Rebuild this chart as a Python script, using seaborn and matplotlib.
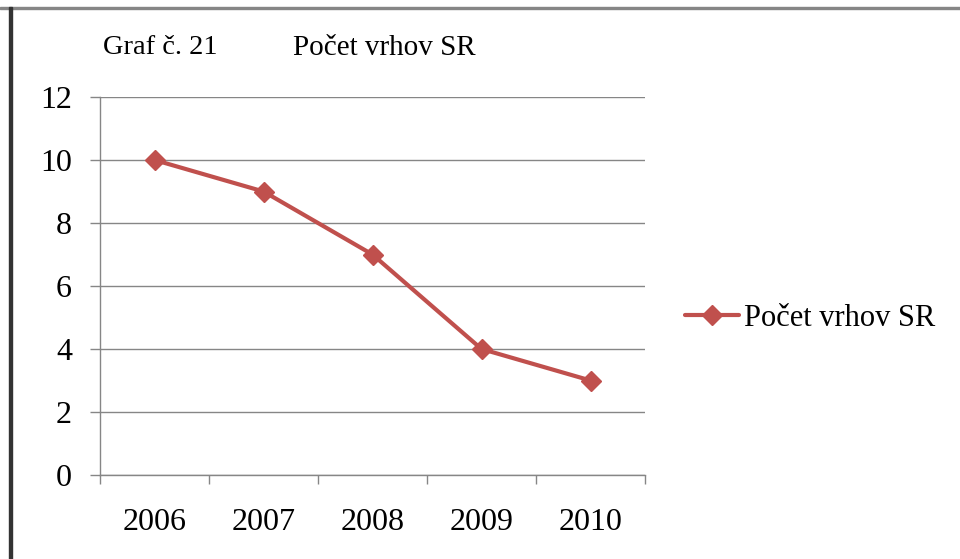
import matplotlib
matplotlib.use("Agg")
import matplotlib.pyplot as plt
import seaborn as sns
import pandas as pd
from matplotlib.lines import Line2D
from matplotlib.patches import Rectangle

years = ["2006", "2007", "2008", "2009", "2010"]
values = [10, 9, 7, 4, 3]
series_name = "Počet vrhov SR"
yticks = [0, 2, 4, 6, 8, 10, 12]

sns.set_style("white")
plt.rcParams['font.family'] = ['Liberation Serif', 'DejaVu Serif']
plt.rcParams['text.color'] = 'black'
plt.rcParams['xtick.color'] = 'black'
plt.rcParams['ytick.color'] = 'black'

df = pd.DataFrame({"year": years, "value": values, "idx": range(len(years))})

fig = plt.figure(figsize=(9.6, 5.59), dpi=100)
ax = fig.add_axes([100/960, 1-475/559, 545/960, 378/559])

color = "#C0504D"
sns.lineplot(data=df, x="idx", y="value", ax=ax, color=color, linewidth=3,
             marker="D", markersize=10.5, markeredgecolor=color,
             markeredgewidth=1, legend=False)

ax.set_xlim(-0.5, len(years) - 0.5)
ax.set_ylim(0, 12)
ax.set_yticks(yticks)
ax.set_yticklabels([str(v) for v in yticks], fontsize=23)
ax.yaxis.grid(True, color="#868686", linewidth=1)
ax.set_axisbelow(True)

ax.set_xticks([i - 0.5 for i in range(len(years) + 1)])
ax.set_xticklabels([])
ax.set_xticks(range(len(years)), minor=True)
ax.set_xticklabels(years, minor=True, fontsize=23)
ax.tick_params(axis="x", which="major", bottom=True, direction="out", length=6.5,
               color="#868686", width=1)
ax.tick_params(axis="x", which="minor", bottom=True, length=0, pad=24)
ax.tick_params(axis="y", left=True, direction="out", length=7.2, color="#868686",
               width=1, pad=13)
ax.set_xlabel("")
ax.set_ylabel("")

for s in ["top", "right"]:
    ax.spines[s].set_visible(False)
for s in ["left", "bottom"]:
    ax.spines[s].set_color("#868686")
    ax.spines[s].set_linewidth(1)

fig.text(103/960, 1-48/559, "Graf č. 21", fontsize=20.5, va="center", ha="left")
fig.text(293/960, 1-48/559, series_name, fontsize=21, va="center", ha="left")

handle = Line2D([], [], color=color, linewidth=3, marker="D", markersize=10.5,
                markeredgewidth=1)
fig.legend([handle], [series_name], loc="center left",
           bbox_to_anchor=(685/960, 1-318/559), frameon=False, fontsize=22,
           handlelength=1.78, handletextpad=0.16, borderaxespad=0, borderpad=0)

# frame borders
fig.patches.append(Rectangle((0, 1-9/559), 1, 2/559, transform=fig.transFigure,
                             color="#868686", zorder=10))
fig.patches.append(Rectangle((9/960, 0), 3/960, 1-7/559, transform=fig.transFigure,
                             color="#333333", zorder=10))

fig.savefig("out.png", dpi=100)
